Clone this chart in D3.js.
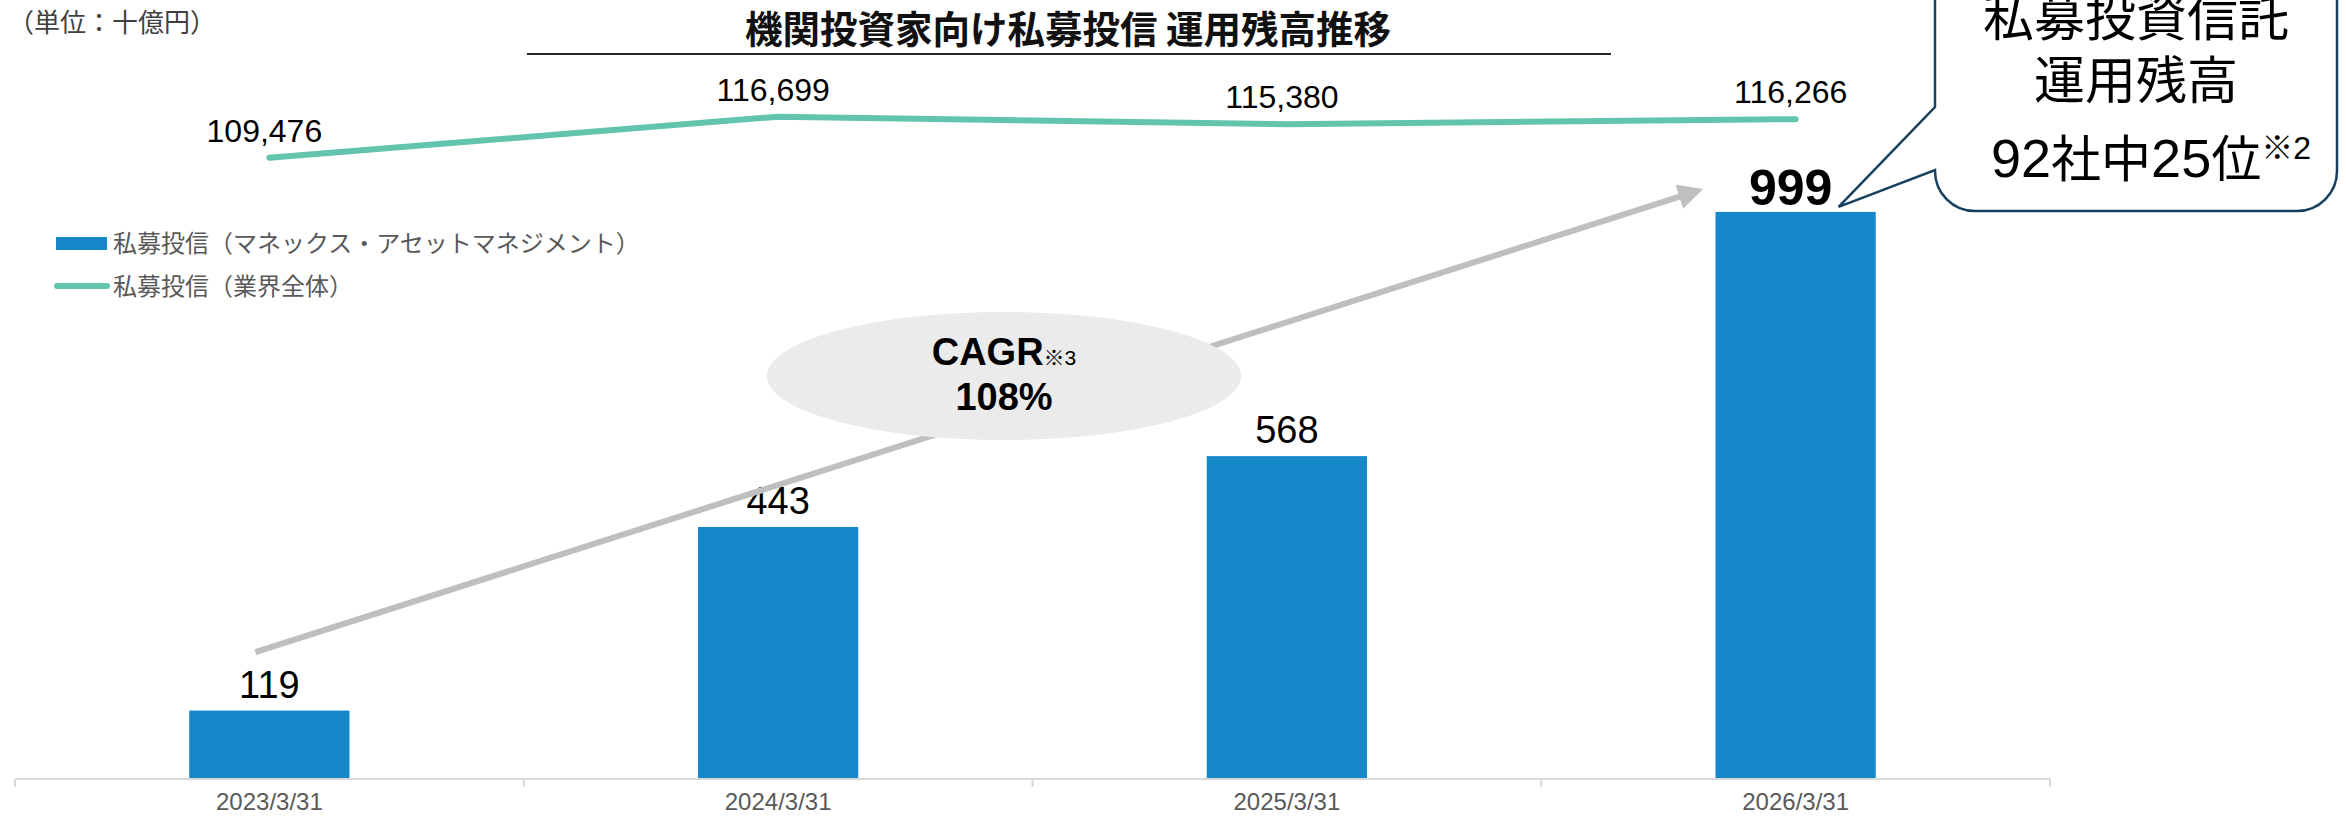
<!DOCTYPE html>
<html lang="ja">
<head>
<meta charset="utf-8">
<script src="https://cdn.jsdelivr.net/npm/d3@7/dist/d3.min.js"></script>
<style>
  html, body { margin: 0; padding: 0; background: #ffffff; }
  svg { display: block; }
  text { font-family: "Liberation Sans", Arial, "Noto Sans CJK JP", sans-serif; }
  .jp { font-family: "Noto Sans CJK JP", "Noto Sans", sans-serif; }
</style>
</head>
<body>
<svg id="chart" width="2346" height="816"></svg>
<script>
// Fiscal year-end dates
const categories = ["2023/3/31", "2024/3/31", "2025/3/31", "2026/3/31"];
// Private placement fund AUM, Monex Asset Management (billion yen)
const monexAum = [119, 443, 568, 999];
// Private placement fund AUM, whole industry (billion yen)
const industryAum = [109476, 116699, 115380, 116266];
// Axis domains (primary: bars, secondary: industry line)
const barAxisMax = 1200;
const lineAxisMax = 120000;

const W = 2346, H = 816;
const plotTop = 98, plotBottom = 778;
const plotLeft = 15, plotRight = 2050;

const svg = d3.select("#chart");

const x = d3.scaleBand().domain(categories).range([plotLeft, plotRight]).padding(0);
const y = d3.scaleLinear().domain([0, barAxisMax]).range([plotBottom, plotTop]);
const y2 = d3.scaleLinear().domain([0, lineAxisMax]).range([plotBottom, plotTop]);
const barW = x.bandwidth() * 0.315;
const cx = c => x(c) + x.bandwidth() / 2;
const fmt = d3.format(",");

// Unit note
svg.append("text").attr("class", "jp")
  .attr("x", 8).attr("y", 32)
  .attr("font-size", 26).attr("fill", "#404040")
  .text("（単位：十億円）");

// Title with underline
svg.append("text").attr("class", "jp")
  .attr("x", 1068).attr("y", 43)
  .attr("text-anchor", "middle")
  .attr("font-size", 37.5).attr("font-weight", 700).attr("fill", "#111")
  .text("機関投資家向け私募投信 運用残高推移");
svg.append("line")
  .attr("x1", 527).attr("x2", 1611).attr("y1", 54).attr("y2", 54)
  .attr("stroke", "#262626").attr("stroke-width", 2);

// Category axis with boundary ticks
const axis = d3.axisBottom(x).tickSize(0).tickPadding(0);
const gx = svg.append("g").attr("transform", `translate(0,${plotBottom})`).call(axis);
gx.select(".domain").remove();
gx.selectAll(".tick text")
  .attr("y", 32).attr("dy", 0)
  .attr("font-size", 24).attr("fill", "#595959")
  .attr("font-family", "Liberation Sans, Arial, sans-serif");
svg.append("line")
  .attr("x1", plotLeft).attr("x2", plotRight)
  .attr("y1", plotBottom + 1).attr("y2", plotBottom + 1)
  .attr("stroke", "#d9d9d9").attr("stroke-width", 2);
const bounds = categories.map(c => x(c)).concat([x(categories[categories.length - 1]) + x.bandwidth()]);
svg.selectAll("line.bound").data(bounds).enter().append("line")
  .attr("class", "bound")
  .attr("x1", d => d).attr("x2", d => d)
  .attr("y1", plotBottom + 1).attr("y2", plotBottom + 9)
  .attr("stroke", "#d9d9d9").attr("stroke-width", 2);

// Bars
svg.selectAll("rect.bar").data(monexAum).enter().append("rect")
  .attr("class", "bar")
  .attr("x", (d, i) => cx(categories[i]) - barW / 2)
  .attr("y", d => y(d))
  .attr("width", barW)
  .attr("height", d => y(0) - y(d))
  .attr("fill", "#1488c8");

// Bar value labels (latest year emphasised)
const isLast = i => i === monexAum.length - 1;
svg.selectAll("text.barlab").data(monexAum).enter().append("text")
  .attr("class", "barlab")
  .attr("x", (d, i) => cx(categories[i]) - (isLast(i) ? 5 : 0))
  .attr("y", (d, i) => y(d) - (isLast(i) ? 7 : 13))
  .attr("text-anchor", "middle")
  .attr("font-size", (d, i) => isLast(i) ? 50 : 38)
  .attr("font-weight", (d, i) => isLast(i) ? 700 : 400)
  .attr("fill", "#000")
  .text(d => fmt(d));

// Growth trend arrow (drawn under the CAGR badge)
const defs = svg.append("defs");
defs.append("marker")
  .attr("id", "arrowhead")
  .attr("viewBox", "0 0 10 10").attr("refX", 6).attr("refY", 5)
  .attr("markerWidth", 4.2).attr("markerHeight", 4.2)
  .attr("orient", "auto")
  .append("path").attr("d", "M0,0 L10,5 L0,10 Z").attr("fill", "#bfbfbf");
svg.append("line")
  .attr("x1", cx(categories[0]) - 14).attr("y1", y(222))
  .attr("x2", cx(categories[3]) - 102).attr("y2", y(1034))
  .attr("stroke", "#bfbfbf").attr("stroke-width", 6)
  .attr("marker-end", "url(#arrowhead)");

// CAGR badge
svg.append("ellipse")
  .attr("cx", 1004).attr("cy", 376).attr("rx", 237).attr("ry", 64)
  .attr("fill", "#ebebeb");
const cagr = svg.append("text")
  .attr("x", 1004).attr("y", 365)
  .attr("text-anchor", "middle")
  .attr("font-weight", 700).attr("fill", "#000");
cagr.append("tspan").attr("font-size", 38).text("CAGR");
cagr.append("tspan").attr("font-size", 21).attr("font-weight", 400).text("※3");
svg.append("text")
  .attr("x", 1004).attr("y", 410)
  .attr("text-anchor", "middle")
  .attr("font-size", 38).attr("font-weight", 700).attr("fill", "#000")
  .text("108%");

// Industry line
const line = d3.line()
  .x((d, i) => cx(categories[i]))
  .y(d => y2(d));
svg.append("path")
  .datum(industryAum)
  .attr("d", line)
  .attr("fill", "none")
  .attr("stroke", "#62c4ac").attr("stroke-width", 6)
  .attr("stroke-linecap", "round").attr("stroke-linejoin", "round");
svg.selectAll("text.linelab").data(industryAum).enter().append("text")
  .attr("class", "linelab")
  .attr("x", (d, i) => cx(categories[i]) - 5)
  .attr("y", d => y2(d) - 16)
  .attr("text-anchor", "middle")
  .attr("font-size", 32).attr("fill", "#000")
  .text(d => fmt(d));

// Legend
const legend = svg.append("g");
legend.append("rect")
  .attr("x", 56).attr("y", 237).attr("width", 51).attr("height", 13)
  .attr("fill", "#1488c8");
legend.append("text").attr("class", "jp")
  .attr("x", 113).attr("y", 252)
  .attr("font-size", 24).attr("fill", "#595959")
  .text("私募投信（マネックス・アセットマネジメント）");
legend.append("line")
  .attr("x1", 57).attr("x2", 107).attr("y1", 286).attr("y2", 286)
  .attr("stroke", "#62c4ac").attr("stroke-width", 6).attr("stroke-linecap", "round");
legend.append("text").attr("class", "jp")
  .attr("x", 113).attr("y", 295)
  .attr("font-size", 24).attr("fill", "#595959")
  .text("私募投信（業界全体）");

// Ranking callout bubble pointing at the latest bar
const bx0 = 1935, bx1 = 2337, by0 = -40, by1 = 211, r = 40;
const tipX = cx(categories[3]) + 43, tipY = y(999) - 5;
const bubble = d3.path();
bubble.moveTo(bx0 + r, by0);
bubble.lineTo(bx1 - r, by0);
bubble.arcTo(bx1, by0, bx1, by0 + r, r);
bubble.lineTo(bx1, by1 - r);
bubble.arcTo(bx1, by1, bx1 - r, by1, r);
bubble.lineTo(bx0 + r, by1);
bubble.arcTo(bx0, by1, bx0, by1 - r, r);
bubble.lineTo(bx0, 170);
bubble.lineTo(tipX, tipY);
bubble.lineTo(bx0, 107);
bubble.lineTo(bx0, by0 + r);
bubble.arcTo(bx0, by0, bx0 + r, by0, r);
bubble.closePath();
svg.append("path")
  .attr("d", bubble.toString())
  .attr("fill", "#ffffff")
  .attr("stroke", "#17405f").attr("stroke-width", 2.5);

const calloutX = (bx0 + bx1) / 2;
svg.append("text").attr("class", "jp")
  .attr("x", calloutX).attr("y", 36)
  .attr("text-anchor", "middle").attr("font-size", 51).attr("fill", "#000")
  .text("私募投資信託");
svg.append("text").attr("class", "jp")
  .attr("x", calloutX).attr("y", 99)
  .attr("text-anchor", "middle").attr("font-size", 51).attr("fill", "#000")
  .text("運用残高");
const rank = svg.append("text")
  .attr("x", calloutX + 15).attr("y", 177)
  .attr("text-anchor", "middle").attr("fill", "#000");
rank.append("tspan").attr("font-size", 54).text("92");
rank.append("tspan").attr("font-size", 50).attr("font-family", "Noto Sans CJK JP").text("社中");
rank.append("tspan").attr("font-size", 54).text("25");
rank.append("tspan").attr("font-size", 50).attr("font-family", "Noto Sans CJK JP").text("位");
rank.append("tspan").attr("font-size", 32).attr("dy", -18).text("※2");
</script>
</body>
</html>
